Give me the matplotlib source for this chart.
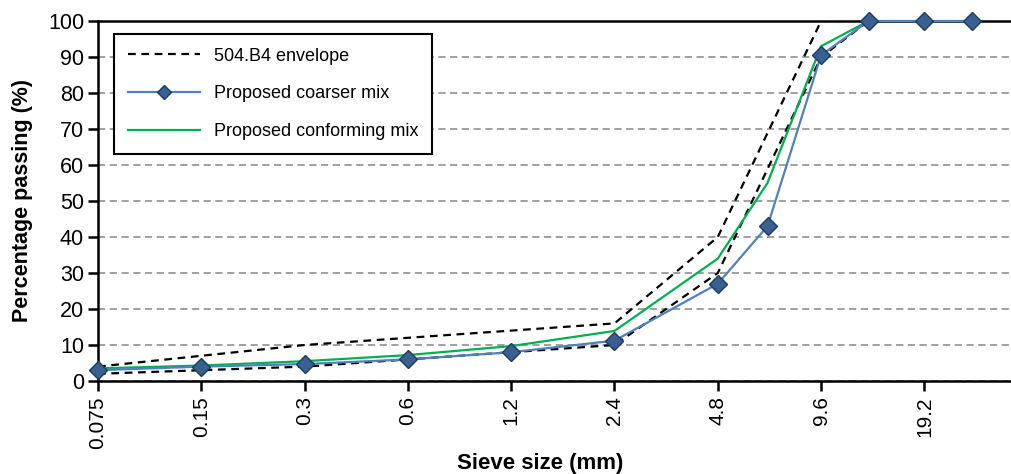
import matplotlib
matplotlib.use("Agg")
import matplotlib.pyplot as plt
from matplotlib.ticker import FixedLocator, NullLocator, FixedFormatter

plt.rcParams['font.family'] = ['Liberation Sans', 'DejaVu Sans']

# Data
sizes = [0.075, 0.15, 0.3, 0.6, 1.2, 2.4, 4.8, 6.7, 9.6, 13.2, 19.2, 26.5]
coarser = [3, 4, 4.7, 6, 8, 11.2, 27, 43, 90.5, 100, 100, 100]
conforming = [3.5, 4.3, 5.5, 7.2, 9.7, 13.9, 34, 55, 93, 100, 100, 100]
env_upper_sizes = [0.075, 0.15, 0.3, 0.6, 1.2, 2.4, 4.8, 9.6, 13.2, 19.2, 26.5]
env_upper = [4, 7, 10, 12, 14, 16, 40, 100, 100, 100, 100]
env_lower_sizes = [0.075, 0.15, 0.3, 0.6, 1.2, 2.4, 4.8, 9.6, 13.2]
env_lower = [2, 3, 4, 6, 8, 10, 30, 90, 100]
tick_sizes = [0.075, 0.15, 0.3, 0.6, 1.2, 2.4, 4.8, 9.6, 19.2]
tick_labels = ["0.075", "0.15", "0.3", "0.6", "1.2", "2.4", "4.8", "9.6", "19.2"]

W, H = 1012, 474
fig = plt.figure(figsize=(W / 100, H / 100), dpi=100)
ax = fig.add_axes([98 / W, 1 - 381 / H, 1 - 98 / W, (381 - 21) / H])

ax.set_xscale('log', base=2)
ax.set_xlim(0.075, 0.075 * 2 ** ((W - 98) / 103.3))
ax.set_ylim(0, 100)

ax.set_yticks(range(0, 101, 10))
ax.yaxis.grid(True, color='#999999', linestyle=(0, (4, 2.5)), linewidth=1.3)
ax.set_axisbelow(True)

ax.plot(env_upper_sizes, env_upper, color='black', linestyle=(0, (3.5, 2.5)),
        linewidth=1.6, label='504.B4 envelope', zorder=4)
ax.plot(env_lower_sizes, env_lower, color='black', linestyle=(0, (3.5, 2.5)),
        linewidth=1.6, zorder=4)
ax.plot(sizes, coarser, color='#4F81BD', linewidth=1.6, marker='D', markersize=9,
        markerfacecolor='#386192', markeredgecolor='#1F3A60', markeredgewidth=1.0,
        label='Proposed coarser mix', zorder=5, clip_on=False)
ax.plot(sizes, conforming, color='#00B050', linewidth=1.6,
        label='Proposed conforming mix', zorder=4.5)

ax.xaxis.set_major_locator(FixedLocator(tick_sizes))
ax.xaxis.set_major_formatter(FixedFormatter(tick_labels))
ax.xaxis.set_minor_locator(NullLocator())

for s in ['left', 'bottom', 'top']:
    ax.spines[s].set_color('black')
    ax.spines[s].set_linewidth(1.8)
ax.spines['right'].set_visible(False)

ax.tick_params(axis='x', which='major', direction='out', length=7, width=1.8,
               labelsize=15, rotation=90, pad=4)
ax.tick_params(axis='y', which='major', direction='out', length=7, width=1.8,
               labelsize=15.5, pad=3)

ax.set_xlabel('Sieve size (mm)', fontsize=16, fontweight='bold')
ax.set_ylabel('Percentage passing (%)', fontsize=15.5, fontweight='bold')
ax.xaxis.set_label_coords(0.484, -0.2)
ax.yaxis.set_label_coords(-0.071, 0.5)

leg = ax.legend(loc='upper left', bbox_to_anchor=(114 / W, 1 - 34 / H),
                bbox_transform=fig.transFigure, fontsize=13, frameon=True,
                fancybox=False, edgecolor='black', framealpha=1,
                handlelength=4.0, labelspacing=1.15, borderpad=0.75,
                handletextpad=0.8, borderaxespad=0, markerscale=0.75)
leg.get_frame().set_linewidth(1.5)

fig.savefig('out.png', dpi=100)
